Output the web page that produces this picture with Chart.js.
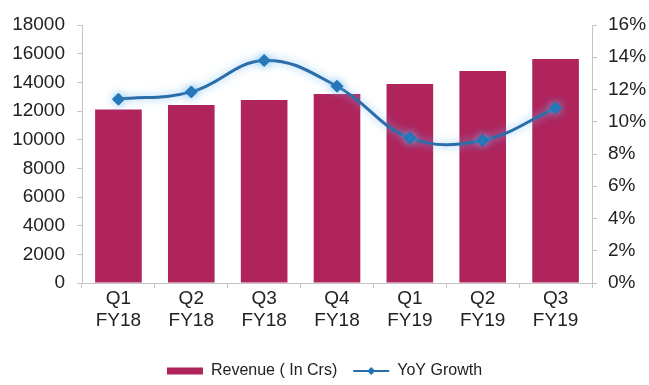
<!DOCTYPE html>
<html>
<head>
<meta charset="utf-8">
<script src="https://cdn.jsdelivr.net/npm/chart.js@4/dist/chart.umd.min.js"></script>
<style>
  html, body { margin: 0; padding: 0; background: #ffffff; }
  #wrap { width: 649px; height: 385px; position: relative; }
</style>
</head>
<body>
<div id="wrap"><canvas id="chart"></canvas></div>
<script>
// Quarterly revenue (in Crs) and year-on-year growth
const quarters = [['Q1', 'FY18'], ['Q2', 'FY18'], ['Q3', 'FY18'], ['Q4', 'FY18'], ['Q1', 'FY19'], ['Q2', 'FY19'], ['Q3', 'FY19']];
const revenue = [12100, 12420, 12770, 13190, 13880, 14790, 15630];
const yoyGrowth = [11.4, 11.85, 13.8, 12.2, 9.0, 8.85, 10.85];
const revenueTicks = [0, 2000, 4000, 6000, 8000, 10000, 12000, 14000, 16000, 18000];
const growthTicks = [0, 2, 4, 6, 8, 10, 12, 14, 16];

const FONT = "'Liberation Sans Narrow', 'Liberation Sans', Arial, sans-serif";
const BAR_COLOR = '#B0245C';
const LINE_COLOR = '#2B6DA8';
const POINT_COLOR = '#1F72B6';

// soft halo behind the growth line
const lineGlow = {
  id: 'lineGlow',
  beforeDatasetDraw(chart, args) {
    if (args.index === 1) {
      const c = chart.ctx;
      c.save();
      c.shadowColor = 'rgba(110,185,240,0.85)';
      c.shadowBlur = 8;
    }
  },
  afterDatasetDraw(chart, args) {
    if (args.index === 1) chart.ctx.restore();
  }
};

// diamond marker on the growth entry of the legend
const legendDiamond = {
  id: 'legendDiamond',
  afterDraw(chart) {
    const legend = chart.legend;
    if (!legend || !legend.legendHitBoxes) return;
    const idx = legend.legendItems.findIndex(it => it.datasetIndex === 1);
    if (idx < 0) return;
    const hb = legend.legendHitBoxes[idx];
    const fs = legend.options.labels.font.size;
    const cx = hb.left + legend.options.labels.pointStyleWidth / 2;
    const cy = hb.top + fs / 2;
    const r = 4;
    const c = chart.ctx;
    c.save();
    c.fillStyle = POINT_COLOR;
    c.beginPath();
    c.moveTo(cx, cy - r);
    c.lineTo(cx + r, cy);
    c.lineTo(cx, cy + r);
    c.lineTo(cx - r, cy);
    c.closePath();
    c.fill();
    c.restore();
  }
};

new Chart(document.getElementById('chart'), {
  data: {
    labels: quarters,
    datasets: [
      {
        type: 'bar',
        label: 'Revenue ( In Crs)',
        data: revenue,
        backgroundColor: BAR_COLOR,
        borderWidth: 0,
        barPercentage: 0.64,
        categoryPercentage: 1.0,
        yAxisID: 'y',
        order: 1
      },
      {
        type: 'line',
        label: 'YoY Growth',
        data: yoyGrowth,
        borderColor: LINE_COLOR,
        borderWidth: 3,
        tension: 0.4,
        fill: false,
        pointStyle: 'rectRot',
        pointRadius: 6,
        pointBackgroundColor: POINT_COLOR,
        pointBorderColor: POINT_COLOR,
        pointBorderWidth: 1,
        yAxisID: 'y1',
        order: 0
      }
    ]
  },
  options: {
    responsive: true,
    maintainAspectRatio: false,
    animation: false,
    layout: { padding: { top: 25, bottom: -4, left: 0, right: 0 } },
    plugins: {
      tooltip: { enabled: false },
      legend: {
        position: 'bottom',
        labels: {
          usePointStyle: true,
          pointStyleWidth: 36,
          boxHeight: 7,
          padding: 16,
          color: '#222222',
          font: { family: FONT, size: 16 },
          generateLabels(chart) {
            const items = Chart.defaults.plugins.legend.labels.generateLabels(chart);
            items.sort((a, b) => a.datasetIndex - b.datasetIndex);
            items.forEach(it => {
              if (it.datasetIndex === 0) {
                it.pointStyle = 'rect';
                it.lineWidth = 0;
              } else {
                it.pointStyle = 'line';
                it.lineWidth = 2;
                it.strokeStyle = LINE_COLOR;
              }
            });
            return items;
          }
        }
      }
    },
    scales: {
      x: {
        grid: {
          display: true,
          drawOnChartArea: false,
          drawTicks: true,
          tickLength: 5,
          tickColor: '#c4c4c4',
          offset: true
        },
        border: { display: true, color: '#c4c4c4', width: 1 },
        ticks: {
          color: '#222222',
          font: { family: FONT, size: 19, lineHeight: 1.15 },
          padding: 0,
          maxRotation: 0
        },
        afterFit(scale) { scale.height = 64; }
      },
      y: {
        position: 'left',
        min: 0,
        max: 18000,
        afterBuildTicks(scale) { scale.ticks = revenueTicks.map(v => ({ value: v })); },
        grid: {
          display: true,
          drawOnChartArea: false,
          drawTicks: true,
          tickLength: 5,
          tickColor: '#c4c4c4'
        },
        border: { display: true, color: '#c4c4c4', width: 1 },
        ticks: {
          color: '#222222',
          font: { family: FONT, size: 19 },
          padding: 12,
          callback: v => String(v)
        },
        afterFit(scale) { scale.width = 82; }
      },
      y1: {
        position: 'right',
        min: 0,
        max: 16,
        afterBuildTicks(scale) { scale.ticks = growthTicks.map(v => ({ value: v })); },
        grid: {
          display: true,
          drawOnChartArea: false,
          drawTicks: true,
          tickLength: 5,
          tickColor: '#c4c4c4'
        },
        border: { display: true, color: '#c4c4c4', width: 1 },
        ticks: {
          color: '#222222',
          font: { family: FONT, size: 19 },
          padding: 11,
          callback: v => v + '%'
        },
        afterFit(scale) { scale.width = 57; }
      }
    }
  },
  plugins: [lineGlow, legendDiamond]
});
</script>
</body>
</html>
